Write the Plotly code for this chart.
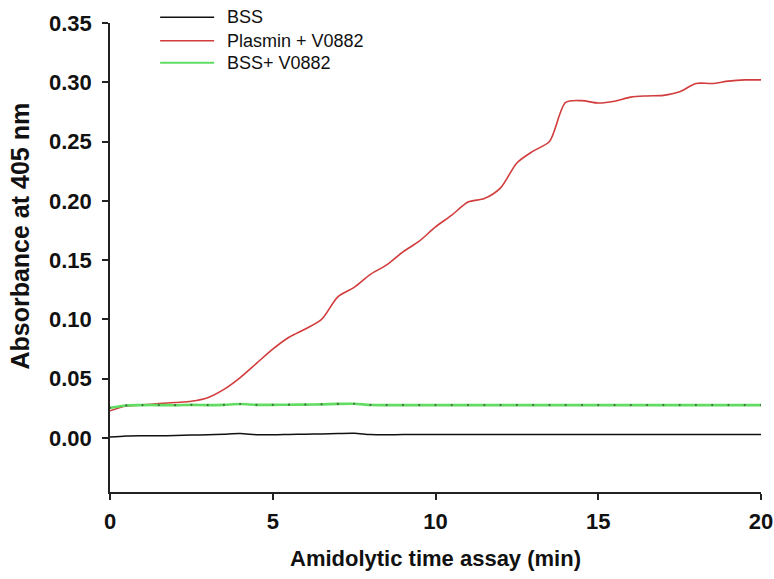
import plotly.graph_objects as go

# Sampling times (min)
time_min = [i * 0.5 for i in range(41)]

# Absorbance at 405 nm for each condition
bss = [0.0008, 0.0018, 0.0020, 0.0020, 0.0021, 0.0025, 0.0028, 0.0033, 0.0038, 0.0028,
       0.0027, 0.0030, 0.0033, 0.0035, 0.0038, 0.0040, 0.0030, 0.0028, 0.0029, 0.0029,
       0.0030, 0.0030, 0.0030, 0.0030, 0.0030, 0.0030, 0.0030, 0.0030, 0.0030, 0.0030,
       0.0030, 0.0030, 0.0030, 0.0030, 0.0030, 0.0030, 0.0030, 0.0030, 0.0030, 0.0030,
       0.0030]
plasmin_v0882 = [0.023, 0.027, 0.028, 0.029, 0.030, 0.031, 0.034, 0.041, 0.051, 0.063,
                 0.075, 0.085, 0.092, 0.100, 0.119, 0.127, 0.138, 0.146, 0.157, 0.166,
                 0.178, 0.188, 0.199, 0.202, 0.211, 0.232, 0.242, 0.250, 0.283, 0.2845,
                 0.2825, 0.284, 0.2875, 0.2885, 0.289, 0.292, 0.299, 0.299, 0.301, 0.302,
                 0.302]
bss_v0882 = [0.0255, 0.0275, 0.0278, 0.0278, 0.0277, 0.0280, 0.0278, 0.0280, 0.0287, 0.0280,
             0.0280, 0.0281, 0.0282, 0.0284, 0.0288, 0.0289, 0.0279, 0.0278, 0.0278, 0.0278,
             0.0278, 0.0278, 0.0278, 0.0278, 0.0278, 0.0278, 0.0278, 0.0278, 0.0278, 0.0278,
             0.0278, 0.0278, 0.0278, 0.0278, 0.0278, 0.0278, 0.0278, 0.0278, 0.0278, 0.0278,
             0.0278]

series_names = ["BSS", "Plasmin + V0882", "BSS+ V0882"]
series_colors = ["#111111", "#d23c3c", "#62dc62"]
series_widths = [1.5, 1.6, 2.6]

y_ticks = [0.00, 0.05, 0.10, 0.15, 0.20, 0.25, 0.30, 0.35]
x_ticks = [0, 5, 10, 15, 20]

FONT = "Liberation Sans, Arial, sans-serif"

fig = go.Figure()
for name, vals, col, w in zip(series_names, [bss, plasmin_v0882, bss_v0882],
                              series_colors, series_widths):
    fig.add_trace(go.Scatter(
        x=time_min, y=vals, name=name, mode="lines",
        line=dict(color=col, width=w, shape="spline", smoothing=0.8),
        showlegend=False, cliponaxis=False,
    ))

# tiny dark dots along the green trace
fig.add_trace(go.Scatter(
    x=time_min, y=bss_v0882, mode="markers", showlegend=False,
    marker=dict(color="#3f6f3f", size=2.2), hoverinfo="skip",
))

# legend block drawn above the plotting area
legend_y = [1.012, 0.962, 0.915]
for name, col, w, ly in zip(series_names, series_colors, series_widths, legend_y):
    fig.add_shape(type="line", xref="paper", yref="paper",
                  x0=0.077, x1=0.16, y0=ly, y1=ly,
                  line=dict(color=col, width=1.5 if w < 2 else 2))
    fig.add_annotation(xref="paper", yref="paper", x=0.177, y=ly, text=name,
                       showarrow=False, xanchor="left", yanchor="middle",
                       font=dict(family=FONT, size=18, color="#111111"))

# vertical axis title, set a little above the axis midpoint
fig.add_annotation(xref="paper", yref="paper", x=-0.138, y=0.545,
                   text="<b>Absorbance at 405 nm</b>", textangle=-90,
                   showarrow=False, xanchor="center", yanchor="middle",
                   font=dict(family=FONT, size=25, color="#111111"))

axis_common = dict(
    showline=True, linecolor="#222222", linewidth=1.5,
    ticks="outside", ticklen=6, tickwidth=1.5, tickcolor="#222222",
    showgrid=False, zeroline=False, mirror=False, automargin=False,
    tickfont=dict(family=FONT, size=22, color="#111111", weight="bold"),
)

fig.update_layout(
    width=774, height=579,
    margin=dict(l=110, r=13, t=23, b=87),
    paper_bgcolor="white", plot_bgcolor="white",
    xaxis=dict(range=[0, 20], tickvals=x_ticks, ticktext=[str(v) for v in x_ticks],
               ticklabelstandoff=3,
               title=dict(text="<b>Amidolytic time assay (min)</b>", standoff=17,
                          font=dict(family=FONT, size=22, color="#111111")),
               **axis_common),
    yaxis=dict(range=[-0.0455, 0.35], tickvals=y_ticks,
               ticktext=[f"{v:.2f}" for v in y_ticks], ticklabelstandoff=6,
               **axis_common),
)

fig.write_html("out.html")
